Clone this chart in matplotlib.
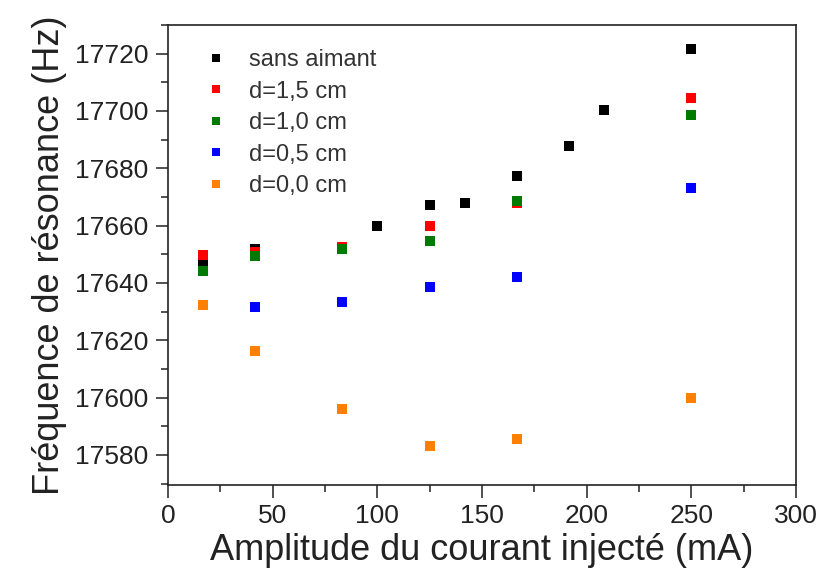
import matplotlib
matplotlib.use('Agg')
import matplotlib.pyplot as plt
from matplotlib.ticker import MultipleLocator

plt.rcParams['font.family'] = ['Liberation Sans', 'DejaVu Sans']

# Data (current amplitude in mA, frequency in Hz)
x_sans = [16.7, 41.7, 100.0, 125.0, 141.7, 166.7, 191.7, 208.3, 250.0]
f_sans = [17647.8, 17651.9, 17660.0, 17667.2, 17667.8, 17677.2, 17687.8, 17700.3, 17721.6]

x_d15 = [16.7, 41.7, 83.3, 125.0, 166.7, 250.0]
f_d15 = [17649.6, 17650.8, 17652.6, 17659.7, 17667.9, 17704.6]

x_d10 = [16.7, 41.7, 83.3, 125.0, 166.7, 250.0]
f_d10 = [17644.3, 17649.3, 17651.8, 17654.7, 17668.7, 17698.6]

x_d05 = [41.7, 83.3, 125.0, 166.7, 250.0]
f_d05 = [17631.5, 17633.4, 17638.5, 17642.2, 17673.0]

x_d00 = [16.7, 41.7, 83.3, 125.0, 166.7, 250.0]
f_d00 = [17632.4, 17616.2, 17596.1, 17583.0, 17585.5, 17600.0]

series = [
  (x_sans, f_sans, 'sans aimant', 'black'),
  (x_d15, f_d15, 'd=1,5 cm', '#ff0000'),
  (x_d10, f_d10, 'd=1,0 cm', '#007a00'),
  (x_d05, f_d05, 'd=0,5 cm', '#0000ff'),
  (x_d00, f_d00, 'd=0,0 cm', '#ff8000'),
]

fig = plt.figure(figsize=(8.2, 5.74), dpi=100)
ax = fig.add_axes([0.2049, 0.155, 0.7658, 0.8015])

for xs, fs, name, col in series:
  ax.plot(xs, fs, linestyle='none', marker='s', markersize=7.8,
          color=col, markeredgewidth=0, label=name)

ax.set_xlim(0, 300)
ax.set_ylim(17569.5, 17730)
ax.xaxis.set_major_locator(MultipleLocator(50))
ax.xaxis.set_minor_locator(MultipleLocator(25))
ax.yaxis.set_major_locator(MultipleLocator(20))
ax.yaxis.set_minor_locator(MultipleLocator(10))
ax.tick_params(which='major', direction='out', length=9, width=1.1,
               labelsize=19, colors='#222222', pad=5)
ax.tick_params(which='minor', direction='out', length=5, width=1.1,
               colors='#222222')
for sp in ax.spines.values():
  sp.set_linewidth(1.2)
  sp.set_color('#222222')

ax.set_xlabel('Amplitude du courant injecté (mA)', fontsize=26,
              color='#222222', labelpad=3)
ax.set_ylabel('Fréquence de résonance (Hz)', fontsize=26,
              color='#222222', labelpad=6)

leg = ax.legend(loc='upper left', bbox_to_anchor=(0.035, 0.978), frameon=False,
                fontsize=17, handletextpad=0.9, labelspacing=0.4,
                markerscale=0.8, handlelength=1.0, borderaxespad=0.2)
for t in leg.get_texts():
  t.set_color('#333333')

fig.savefig('out.png', dpi=100)
